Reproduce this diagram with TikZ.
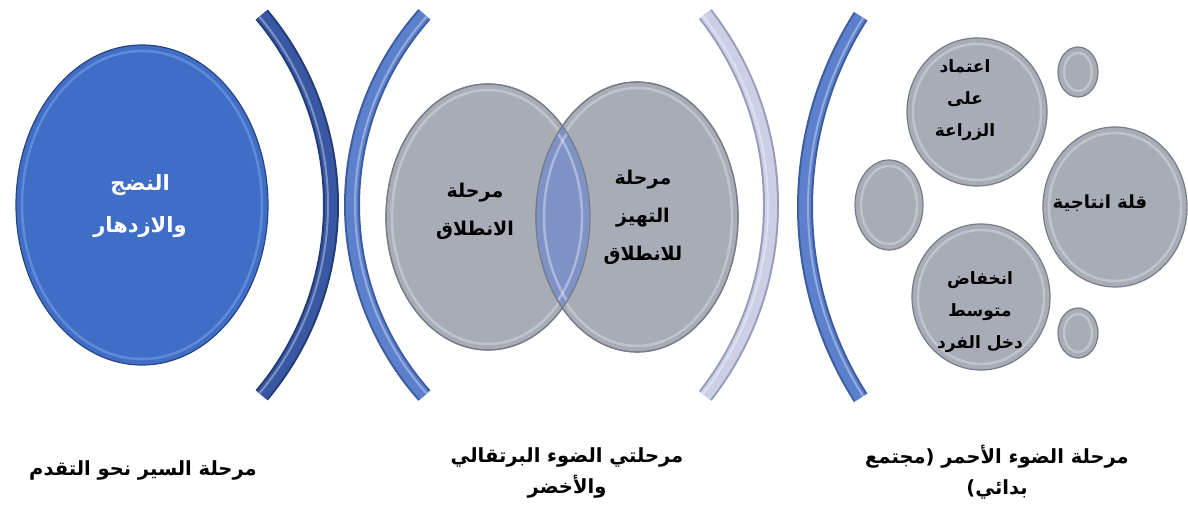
\documentclass[tikz,border=0pt]{standalone}
\usepackage{fontspec}
\usetikzlibrary{shapes.geometric}
\TeXXeTstate=1
\newfontfamily\arabicfont[Script=Arabic, BoldFont={DejaVu Sans Bold}]{DejaVu Sans}
\newcommand\ar[1]{{\arabicfont\bfseries\beginR #1\endR}}

\definecolor{bluedisc}{RGB}{64,110,198}
\definecolor{bluerim}{RGB}{108,148,222}
\definecolor{blueedge}{RGB}{40,70,130}
\definecolor{graydisc}{RGB}{168,172,182}
\definecolor{grayrim}{RGB}{200,203,210}
\definecolor{grayedge}{RGB}{120,124,134}
\definecolor{lensblue}{RGB}{126,146,200}
\definecolor{arcdark}{RGB}{56,88,164}
\definecolor{arcdarkedge}{RGB}{36,60,118}
\definecolor{arcmid}{RGB}{92,128,204}
\definecolor{arcmidedge}{RGB}{60,92,160}
\definecolor{arclight}{RGB}{204,208,230}
\definecolor{arclightedge}{RGB}{150,156,186}

% a bevelled disc: filled ellipse node plus a lighter inner rim
\newcommand\disc[7]{% name, x, y, rx, ry, fill, edge/rim prefix
  \node[ellipse, inner sep=0pt, fill=#6, draw=#7edge, line width=1.2pt,
        minimum width=2*#4, minimum height=2*#5] (#1) at (#2,#3) {};
  \draw[#7rim, line width=2.5pt, opacity=.75] (#2,#3) ellipse [x radius=#4-6, y radius=#5-6];
}
% a bevelled bracket arc around a centre
\newcommand\bracketarc[7]{% cx, cy, radius, start, end, body colour, edge colour
  \draw[#7, line width=16pt] (#1,#2) ++(#4:#3) arc[start angle=#4, end angle=#5, radius=#3];
  \draw[#6, line width=12pt] (#1,#2) ++(#4:#3) arc[start angle=#4, end angle=#5, radius=#3];
  \draw[white, opacity=.35, line width=2pt] (#1,#2) ++(#4:#3-3) arc[start angle=#4, end angle=#5, radius=#3-3];
}

\begin{document}
\begin{tikzpicture}[x=1pt, y=1pt,
  intext/.style={align=center, text=black, font=\fontsize{19}{38}\selectfont},
  smalltext/.style={align=center, text=black, font=\fontsize{17}{32}\selectfont},
  whitetext/.style={align=center, text=white, font=\fontsize{21}{42}\selectfont},
  caption/.style={align=center, text=black, font=\fontsize{19.5}{31}\selectfont}]
\useasboundingbox (0,0) rectangle (1188,513);
\fill[white] (0,0) rectangle (1188,513);

% brackets between the stages
\bracketarc{35}{308}{296}{-40}{40}{arcdark}{arcdarkedge}
\bracketarc{639}{308}{287}{138.4}{221.6}{arcmid}{arcmidedge}
\bracketarc{461}{308}{310}{-38}{38}{arclight}{arclightedge}
\bracketarc{1160}{306}{355}{147.5}{212.5}{arcmid}{arcmidedge}

% stage three: maturity
\disc{mature}{142}{308}{126}{160}{bluedisc}{blue}
\node[whitetext] (matureText) at (140,307) {\ar{النضج}\\\ar{والازدهار}};

% stage two: the two overlapping discs
\disc{launch}{488}{296}{102}{133}{graydisc}{gray}
\disc{prep}{637}{296}{101}{135}{graydisc}{gray}
\begin{scope}
  \clip (488,296) ellipse [x radius=102, y radius=133];
  \fill[lensblue] (637,296) ellipse [x radius=101, y radius=135];
  \draw[white, opacity=.35, line width=2.5pt] (637,296) ellipse [x radius=93, y radius=127];
\end{scope}
\begin{scope}
  \clip (637,296) ellipse [x radius=101, y radius=135];
  \draw[white, opacity=.35, line width=2.5pt] (488,296) ellipse [x radius=94, y radius=125];
\end{scope}
\draw[grayedge, line width=1.2pt] (488,296) ellipse [x radius=102, y radius=133];
\draw[grayedge, line width=1.2pt] (637,296) ellipse [x radius=101, y radius=135];
\node[intext] (launchText) at (475,302) {\ar{مرحلة}\\\ar{الانطلاق}};
\node[intext] (prepText) at (643,296) {\ar{مرحلة}\\\ar{التهيز}\\\ar{للانطلاق}};

% stage one: the cluster of traits
\disc{farm}{977}{401}{70}{74}{graydisc}{gray}
\disc{dotA}{1078}{441}{20}{25}{graydisc}{gray}
\disc{dotB}{889}{308}{34}{45}{graydisc}{gray}
\disc{output}{1115}{306}{72}{80}{graydisc}{gray}
\disc{income}{981}{216}{69}{73}{graydisc}{gray}
\disc{dotC}{1078}{180}{20}{25}{graydisc}{gray}
\node[smalltext] (farmText) at (965,413) {\ar{اعتماد}\\\ar{على}\\\ar{الزراعة}};
\node[smalltext, font=\fontsize{18}{32}\selectfont] (outputText) at (1100,310) {\ar{قلة انتاجية}};
\node[smalltext] (incomeText) at (980,201) {\ar{انخفاض}\\\ar{متوسط}\\\ar{دخل الفرد}};

% captions under each stage
\node[caption] (capThree) at (143,43) {\ar{مرحلة السير نحو التقدم}};
\node[caption] (capTwo) at (567,40) {\ar{مرحلتي الضوء البرتقالي}\\\ar{والأخضر}};
\node[caption] (capOne) at (997,41) {\ar{مرحلة الضوء الأحمر (مجتمع}\\\ar{بدائي)}};
\end{tikzpicture}
\end{document}
